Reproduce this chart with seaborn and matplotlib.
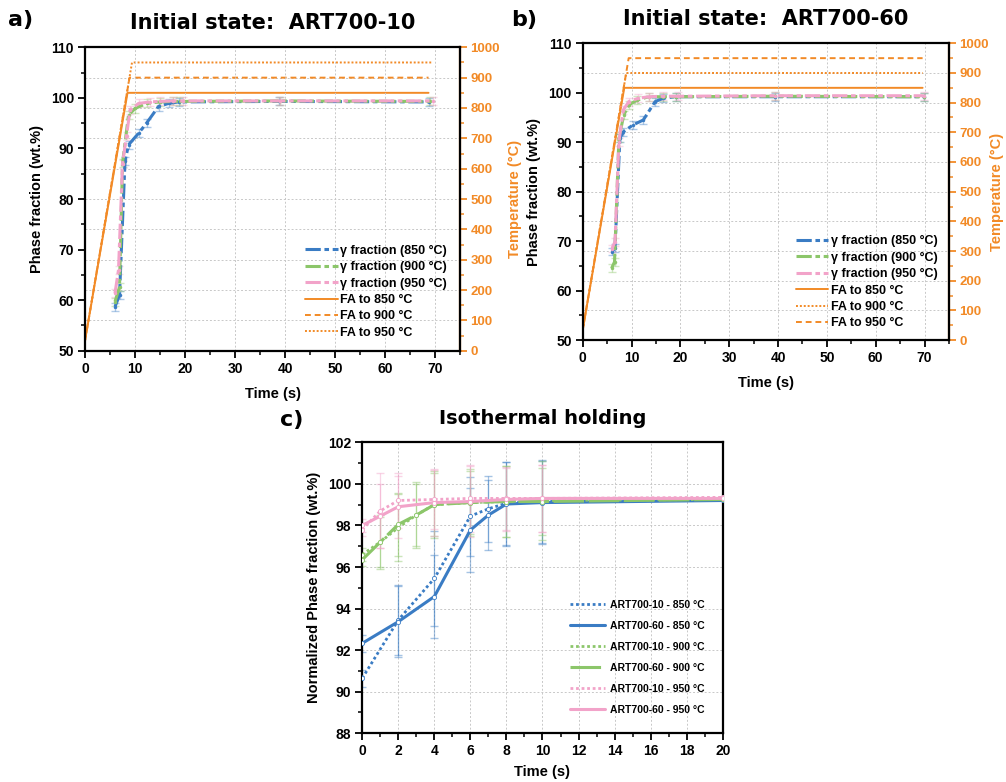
import numpy as np
import pandas as pd
import matplotlib
matplotlib.use("Agg")
import matplotlib.pyplot as plt
import seaborn as sns
from matplotlib.ticker import MultipleLocator
from matplotlib.lines import Line2D

sns.set_theme(style="white")
plt.rcParams['font.family'] = ['Liberation Sans', 'DejaVu Sans']
plt.rcParams['font.weight'] = 'bold'
plt.rcParams['axes.grid'] = False
for k in ['text.color', 'axes.labelcolor', 'xtick.color', 'ytick.color', 'axes.edgecolor']:
    plt.rcParams[k] = 'black'

BLUE = "#3a7cc4"
GREEN = "#8cc66a"
PINK = "#f2a3c9"
ORANGE = "#f28a26"
TITLE_FONT = ['DejaVu Sans']

# ---------------- Panel a data (ART700-10) ----------------
a_t850 = [6.0, 6.9, 8.0, 8.7, 10.7, 12.3, 14.7, 16.7, 18.7, 38.7, 68.7]
a_g850 = [58.7, 61.0, 87.5, 90.7, 93.0, 95.0, 98.3, 98.9, 99.2, 99.3, 99.2]
a_t900 = [6.0, 6.9, 7.5, 8.7, 10.0, 12.3, 15.0, 17.5, 19.0, 39.0, 69.0]
a_g900 = [59.7, 62.6, 87.1, 96.6, 97.9, 98.9, 99.2, 99.3, 99.3, 99.4, 99.3]
a_t950 = [6.0, 6.7, 7.5, 8.3, 9.0, 10.7, 13.0, 15.0, 17.5, 19.5, 39.0, 69.5]
a_g950 = [61.4, 66.0, 87.0, 92.5, 97.6, 98.9, 99.2, 99.3, 99.4, 99.4, 99.4, 99.4]

a_ramp_t = {850: [0, 8.5, 68.7], 900: [0, 8.9, 68.7], 950: [0, 9.4, 69.3]}
a_ramp_T = {850: [33, 850, 850], 900: [33, 900, 900], 950: [33, 950, 950]}

# ---------------- Panel b data (ART700-60) ----------------
b_t850 = [6.0, 6.6, 7.6, 8.3, 10.3, 12.4, 14.8, 16.5, 19.0, 39.4, 69.8]
b_g850 = [67.9, 68.6, 90.8, 92.1, 93.5, 94.5, 98.2, 98.9, 99.2, 99.2, 99.2]
b_t900 = [5.9, 6.5, 7.4, 8.4, 9.4, 11.1, 13.5, 16.5, 19.0, 39.4, 69.8]
b_g900 = [64.5, 65.8, 90.8, 95.5, 97.5, 98.5, 99.2, 99.2, 99.2, 99.3, 99.2]
b_t950 = [6.0, 6.6, 7.4, 8.3, 9.4, 11.4, 13.5, 16.5, 19.5, 39.4, 69.8]
b_g950 = [68.5, 69.9, 90.1, 96.5, 98.2, 98.9, 99.2, 99.3, 99.3, 99.4, 99.4]

b_ramp_t = {850: [0, 8.5, 69.6], 900: [0, 8.9, 69.6], 950: [0, 9.4, 69.6]}
b_ramp_T = {850: [35, 850, 850], 900: [35, 900, 900], 950: [35, 950, 950]}

# ---------------- Panel c data (isothermal holding) ----------------
c_t_blue = [0, 2, 4, 6, 7, 8, 10, 20]
c_blue10 = [90.65, 93.45, 95.45, 98.45, 98.8, 99.07, 99.15, 99.25]
c_blue60 = [92.33, 93.37, 94.58, 97.78, 98.5, 99.03, 99.1, 99.2]
c_blue10_err = [0.4, 1.7, 2.3, 1.9, 1.6, 2.0, 2.0, 0.0]
c_blue60_err = [0.4, 1.7, 2.0, 2.0, 1.7, 2.0, 2.0, 0.0]
c_t_green = [0, 1, 2, 3, 4, 6, 8, 10, 20]
c_green10 = [96.6, 97.2, 97.9, 98.5, 99.0, 99.1, 99.15, 99.2, 99.25]
c_green60 = [96.35, 97.2, 98.05, 98.5, 99.0, 99.1, 99.15, 99.15, 99.25]
c_green10_err = [0.3, 1.3, 1.6, 1.6, 1.6, 1.6, 1.7, 1.9, 0.0]
c_green60_err = [0.3, 1.2, 1.5, 1.5, 1.5, 1.5, 1.7, 1.6, 0.0]
c_t_pink = [0, 1, 2, 4, 6, 8, 10, 20]
c_pink10 = [97.8, 98.7, 99.2, 99.25, 99.3, 99.3, 99.3, 99.35]
c_pink60 = [98.0, 98.45, 98.9, 99.1, 99.15, 99.25, 99.3, 99.3]
c_pink10_err = [0.3, 1.8, 1.3, 1.4, 1.6, 1.5, 1.6, 0.0]
c_pink60_err = [0.3, 1.55, 1.5, 1.6, 1.7, 1.5, 1.6, 0.0]

DASHDOT = (0, (5, 1.2, 1.5, 1.2))
GRID_KW = dict(color='#c8c8c8', lw=0.7, ls=(0, (2, 2)), zorder=0)

fig = plt.figure(figsize=(10.06, 7.82), dpi=100)


def style_main(ax, ylim, ymaj, ymin, xlim, xmaj, xmin):
    ax.set_xlim(*xlim)
    ax.set_ylim(*ylim)
    ax.xaxis.set_major_locator(MultipleLocator(xmaj))
    ax.xaxis.set_minor_locator(MultipleLocator(xmin))
    ax.yaxis.set_major_locator(MultipleLocator(ymaj))
    ax.yaxis.set_minor_locator(MultipleLocator(ymin))
    ax.tick_params(which='major', direction='out', length=5, width=1.3,
                   labelsize=10, bottom=True, left=True, top=False, right=False, pad=3)
    ax.tick_params(which='minor', direction='out', length=3, width=1.1,
                   bottom=True, left=True, top=False, right=False)
    for lab in ax.get_xticklabels() + ax.get_yticklabels():
        lab.set_fontweight('bold')
    for s in ['left', 'bottom', 'top', 'right']:
        ax.spines[s].set_visible(True)
        ax.spines[s].set_color('black')
        ax.spines[s].set_linewidth(1.6)
    ax.grid(False)


def initial_panel(rect, title, letter, letter_x, leg_anchor, temp_pad,
                  t850, g850, t900, g900, t950, g950,
                  ramp_t, ramp_T, style900, style950):
    ax = fig.add_axes(rect)
    style_main(ax, (50, 110), 10, 5, (0, 75), 10, 5)
    ax2 = ax.twinx()
    ax2.set_ylim(0, 1000)
    ax2.yaxis.set_major_locator(MultipleLocator(100))
    ax2.yaxis.set_minor_locator(MultipleLocator(50))
    ax2.tick_params(which='major', direction='out', length=5, width=1.3,
                    labelsize=9.5, colors=ORANGE, right=True, left=False, pad=2.5)
    ax2.tick_params(which='minor', direction='out', length=3, width=1.1,
                    colors=ORANGE, right=True, left=False)
    for lab in ax2.get_yticklabels():
        lab.set_fontweight('bold')
    for s in ['left', 'bottom', 'top']:
        ax2.spines[s].set_visible(False)
    ax2.spines['right'].set_visible(True)
    ax2.spines['right'].set_color(ORANGE)
    ax2.spines['right'].set_linewidth(1.6)
    ax2.grid(False)
    for x in range(10, 75, 10):
        ax.axvline(x, **GRID_KW)
    for T in range(100, 1000, 100):
        ax2.axhline(T, **GRID_KW)

    handles = []
    for tt, gg, col, lab in [(t850, g850, BLUE, 'γ fraction (850 °C)'),
                             (t900, g900, GREEN, 'γ fraction (900 °C)'),
                             (t950, g950, PINK, 'γ fraction (950 °C)')]:
        df = pd.DataFrame({'t': tt, 'g': gg})
        ax.errorbar(tt, gg, yerr=0.8, fmt='none', ecolor=col, alpha=0.4,
                    elinewidth=1, capsize=3, zorder=2)
        sns.lineplot(data=df, x='t', y='g', ax=ax, color=col, lw=2.2,
                     linestyle=DASHDOT, sort=False, estimator=None,
                     marker='o', markersize=2.5, markeredgewidth=0, zorder=3)
        handles.append(Line2D([], [], color=col, lw=2.2, ls=(0, (5, 1.2, 1.5, 1.2)), label=lab))

    for T, ls in [(850, '-'), (900, style900), (950, style950)]:
        df = pd.DataFrame({'t': ramp_t[T], 'T': ramp_T[T]})
        sns.lineplot(data=df, x='t', y='T', ax=ax2, color=ORANGE, lw=1.4,
                     linestyle=ls, sort=False, estimator=None, zorder=4)
    handles.append(Line2D([], [], color=ORANGE, lw=1.4, ls='-', label='FA to 850 °C'))
    handles.append(Line2D([], [], color=ORANGE, lw=1.4, ls=style900, label='FA to 900 °C'))
    handles.append(Line2D([], [], color=ORANGE, lw=1.4, ls=style950, label='FA to 950 °C'))
    ax.set_zorder(ax2.get_zorder() + 1)
    ax.patch.set_visible(False)

    ax.set_xlabel('Time (s)', fontsize=10.5, fontweight='bold', labelpad=8)
    ax.set_ylabel('Phase fraction (wt.%)', fontsize=10.5, fontweight='bold', labelpad=5)
    ax2.set_ylabel('Temperature (°C)', fontsize=10.5, fontweight='bold', color=ORANGE,
                   labelpad=temp_pad)
    ax2.set_xlabel('')
    ax.set_title(title, fontsize=15, fontweight='bold', pad=13, family=TITLE_FONT)
    ax.legend(handles=handles, loc='lower right', bbox_to_anchor=leg_anchor,
              frameon=False, prop={'weight': 'bold', 'size': 9},
              handlelength=2.6, handletextpad=0.2, labelspacing=0.35,
              borderaxespad=0, borderpad=0.4)
    fig.text(letter_x, 0.975, letter, fontsize=16, fontweight='bold', va='center',
             family=TITLE_FONT)
    return ax


initial_panel([0.0845, 0.5515, 0.3728, 0.388], 'Initial state:  ART700-10', 'a)', 0.008,
              (0.978, 0.023), 6,
              a_t850, a_g850, a_t900, a_g900, a_t950, a_g950,
              a_ramp_t, a_ramp_T, (0, (3, 2)), (0, (1, 1)))
initial_panel([0.5793, 0.5652, 0.364, 0.3794], 'Initial state:  ART700-60', 'b)', 0.508,
              (0.983, 0.019), 1,
              b_t850, b_g850, b_t900, b_g900, b_t950, b_g950,
              b_ramp_t, b_ramp_T, (0, (1, 1)), (0, (3, 2)))

# ---------------- Panel c ----------------
axc = fig.add_axes([0.3601, 0.0623, 0.3583, 0.3721])
style_main(axc, (88, 102), 2, 1, (0, 20), 2, 1)
for x in range(2, 20, 2):
    axc.axvline(x, **GRID_KW)
for y in range(90, 102, 2):
    axc.axhline(y, **GRID_KW)

c_series = [
    (c_t_blue, c_blue10, c_blue10_err, BLUE, (0, (1, 1)), 2.0, 'ART700-10 - 850 °C'),
    (c_t_blue, c_blue60, c_blue60_err, BLUE, '-', 2.2, 'ART700-60 - 850 °C'),
    (c_t_green, c_green10, c_green10_err, GREEN, (0, (1, 1)), 2.0, 'ART700-10 - 900 °C'),
    (c_t_green, c_green60, c_green60_err, GREEN, (0, (10, 1.5)), 2.2, 'ART700-60 - 900 °C'),
    (c_t_pink, c_pink10, c_pink10_err, PINK, (0, (1, 1)), 2.0, 'ART700-10 - 950 °C'),
    (c_t_pink, c_pink60, c_pink60_err, PINK, '-', 2.2, 'ART700-60 - 950 °C'),
]
hc = []
for tt, yy, ee, col, ls, lw, lab in c_series:
    axc.errorbar(tt, yy, yerr=ee, fmt='none', ecolor=col, alpha=0.45,
                 elinewidth=0.9, capsize=3, zorder=2)
    df = pd.DataFrame({'t': tt, 'v': yy})
    sns.lineplot(data=df, x='t', y='v', ax=axc, color=col, lw=lw, linestyle=ls,
                 sort=False, estimator=None, marker='o', markersize=3,
                 markerfacecolor='white', markeredgecolor=col, markeredgewidth=0.6,
                 zorder=3)
    hc.append(Line2D([], [], color=col, lw=lw, ls=ls, label=lab))
axc.set_xlabel('Time (s)', fontsize=10.5, fontweight='bold', labelpad=5)
axc.set_ylabel('Normalized Phase fraction (wt.%)', fontsize=10.5, fontweight='bold', labelpad=5)
axc.set_title('Isothermal holding', fontsize=14, fontweight='bold', pad=13, family=TITLE_FONT)
axc.legend(handles=hc, loc='lower right', bbox_to_anchor=(0.962, 0.05), frameon=False,
           prop={'weight': 'bold', 'size': 7.5}, handlelength=3.4, handletextpad=0.5,
           labelspacing=1.05, borderaxespad=0, borderpad=0.4)
fig.text(0.278, 0.463, 'c)', fontsize=16, fontweight='bold', va='center', family=TITLE_FONT)

fig.savefig('out.png', dpi=100)
